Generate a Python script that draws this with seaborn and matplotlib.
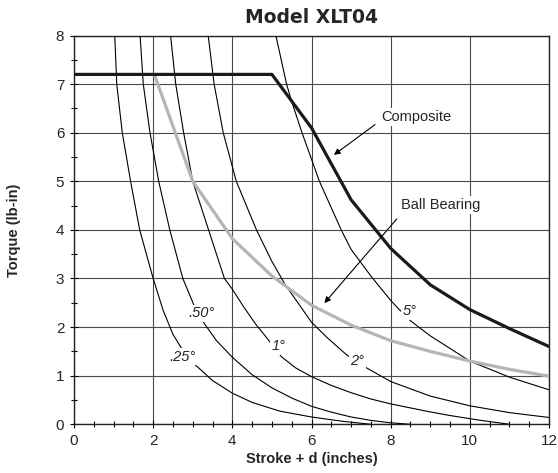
import numpy as np
import pandas as pd
import matplotlib
matplotlib.use("Agg")
import matplotlib.pyplot as plt
import seaborn as sns

# ---- data ----
composite_x = [0, 5, 6, 7, 8, 9, 10, 11, 12]
composite_y = [7.2, 7.2, 6.1, 4.62, 3.62, 2.87, 2.36, 1.97, 1.6]

ball_x = [2.03, 3, 4, 5, 6, 7, 8, 9, 10, 11, 12]
ball_y = [7.2, 5.0, 3.82, 3.05, 2.45, 2.04, 1.72, 1.5, 1.3, 1.13, 0.99]

a025_x = [1.03, 1.08, 1.22, 1.43, 1.66, 2.0, 2.25, 2.5, 2.75, 3.0, 3.5, 4.0, 4.5, 5.2, 6.0, 6.8, 7.5]
a025_y = [8, 7, 6, 5, 4, 3, 2.35, 1.85, 1.52, 1.27, 0.9, 0.64, 0.45, 0.27, 0.15, 0.06, 0.0]

a050_x = [1.67, 1.75, 1.92, 2.14, 2.42, 2.75, 3.03, 3.27, 3.6, 4.0, 4.5, 5.0, 5.5, 6.0, 6.5, 7.0, 7.5, 8.0, 8.5]
a050_y = [8, 7, 6, 5, 4, 3, 2.45, 2.1, 1.72, 1.38, 1.02, 0.75, 0.54, 0.37, 0.25, 0.15, 0.08, 0.03, 0.0]

a1_x = [2.44, 2.57, 2.77, 3.0, 3.4, 3.8, 4.0, 4.3, 4.6, 4.8, 5.24, 5.6, 6.0, 6.5, 7.0, 7.5, 8.0, 8.9, 9.5, 10.2, 11.0]
a1_y = [8, 7, 6, 5, 4, 3, 2.78, 2.4, 2.05, 1.85, 1.39, 1.16, 0.98, 0.8, 0.65, 0.52, 0.42, 0.27, 0.18, 0.09, 0.0]

a2_x = [3.39, 3.54, 3.77, 4.1, 4.61, 5.0, 5.33, 6.0, 6.4, 6.87, 7.16, 7.37, 8.0, 9.0, 10.0, 11.0, 12.0]
a2_y = [8, 7, 6, 5, 4, 3.35, 2.88, 2.1, 1.78, 1.44, 1.28, 1.17, 0.88, 0.58, 0.38, 0.24, 0.14]

a5_x = [5.1, 5.37, 5.5, 5.76, 6.2, 6.75, 7.0, 7.5, 8.0, 8.17, 8.5, 9.0, 10.0, 11.0, 12.0]
a5_y = [8, 7, 6.64, 6.0, 5.0, 4.0, 3.6, 3.05, 2.55, 2.4, 2.13, 1.82, 1.3, 0.97, 0.71]

angle_labels = [".25°", ".50°", "1°", "2°", "5°"]
angle_label_x = [2.73, 3.22, 5.16, 7.16, 8.47]
angle_label_y = [1.39, 2.28, 1.61, 1.30, 2.33]

x_ticks = [0, 2, 4, 6, 8, 10, 12]
y_ticks = [0, 1, 2, 3, 4, 5, 6, 7, 8]

title = "Model XLT04"
xlabel = "Stroke + d (inches)"
ylabel = "Torque (lb-in)"

# ---- plotting ----
sns.set_theme(style="white")
plt.rcParams['font.family'] = ['Liberation Sans', 'DejaVu Sans']

fig = plt.figure(figsize=(5.58, 4.73), dpi=100)
ax = fig.add_axes([0.1326, 0.103, 0.8513, 0.8219])

thin_curves = [(a025_x, a025_y), (a050_x, a050_y), (a1_x, a1_y), (a2_x, a2_y), (a5_x, a5_y)]
for cx, cy in thin_curves:
    sns.lineplot(x=cx, y=cy, ax=ax, color='black', lw=0.8, estimator=None, sort=False, zorder=3)

sns.lineplot(x=ball_x, y=ball_y, ax=ax, color='#b5b5b5', lw=2.3, estimator=None, sort=False, zorder=4)
sns.lineplot(x=composite_x, y=composite_y, ax=ax, color='#1a1a1a', lw=2.3, estimator=None, sort=False, zorder=5)

ax.set_xlim(0, 12)
ax.set_ylim(0, 8)
ax.set_xticks(x_ticks)
ax.set_yticks(y_ticks)
ax.set_xticks(np.arange(0, 12.01, 0.5), minor=True)
ax.set_yticks(np.arange(0, 8.01, 0.5), minor=True)
ax.grid(True, which='major', color='#4a4a4a', lw=0.8, zorder=1)
ax.set_axisbelow(True)
ax.tick_params(axis='both', which='major', direction='inout', length=6, width=0.8,
               color='black', labelsize=11, pad=4, bottom=True, left=True)
ax.tick_params(axis='both', which='minor', direction='inout', length=4, width=0.8,
               color='black', bottom=True, left=True)
for s in ax.spines.values():
    s.set_color('#222222')
    s.set_linewidth(1.0)

# angle labels (white boxes break the curves like the reference)
for t, lx, ly in zip(angle_labels, angle_label_x, angle_label_y):
    ax.text(lx, ly, t, fontsize=10.5, style='italic', ha='center', va='center', zorder=6,
            bbox=dict(facecolor='white', edgecolor='none', pad=1.0))

# annotations
ax.annotate('', xy=(6.51, 5.51), xytext=(7.66, 6.2),
            arrowprops=dict(arrowstyle='-|>', color='black', lw=0.8, mutation_scale=9), zorder=6)
ax.text(7.75, 6.33, "Composite", fontsize=10.5, ha='left', va='center', zorder=7,
        bbox=dict(facecolor='white', edgecolor='none', pad=1.5))
ax.annotate('', xy=(6.28, 2.45), xytext=(8.2, 4.27),
            arrowprops=dict(arrowstyle='-|>', color='black', lw=0.8, mutation_scale=9), zorder=6)
ax.text(8.25, 4.51, "Ball Bearing", fontsize=10.5, ha='left', va='center', zorder=7,
        bbox=dict(facecolor='white', edgecolor='none', pad=1.5))

ax.set_title(title, fontsize=13.5, fontweight='heavy', family='DejaVu Sans', pad=9)
ax.set_xlabel(xlabel, fontsize=10.5, fontweight='bold', labelpad=3)
ax.set_ylabel(ylabel, fontsize=10.5, fontweight='bold', labelpad=25)

fig.savefig('out.png', dpi=100)
